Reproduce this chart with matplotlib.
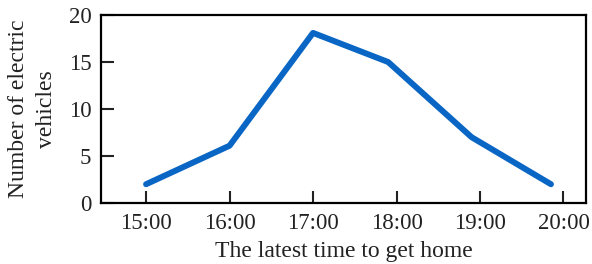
import matplotlib
matplotlib.use("Agg")
import matplotlib.pyplot as plt

hours = [15.0, 16.0, 17.0, 17.9, 18.9, 19.85]
vehicles = [2.0, 6.1, 18.1, 15.0, 7.0, 2.0]
tick_hours = [15, 16, 17, 18, 19, 20]
tick_labels = ["15:00", "16:00", "17:00", "18:00", "19:00", "20:00"]
y_ticks = [0, 5, 10, 15, 20]

plt.rcParams['font.family'] = ['Liberation Serif', 'DejaVu Serif']

fig = plt.figure(figsize=(5.92, 2.64), dpi=100)
ax = fig.add_axes([0.1706, 0.231, 0.8193, 0.712])
ax.plot(hours, vehicles, color='#0a66c4', linewidth=4.3, solid_capstyle='round', solid_joinstyle='round')
ax.set_xlim(14.46, 20.27)
ax.set_ylim(0, 20)
ax.set_xticks(tick_hours)
ax.set_xticklabels(tick_labels)
ax.set_yticks(y_ticks)
ax.tick_params(direction='in', length=9, width=1.5, labelsize=16.5, colors='#222222', pad=7)
ax.tick_params(axis='x', pad=7.5)
for s in ax.spines.values():
    s.set_linewidth(1.6)
ax.set_xlabel("The latest time to get home", fontsize=17, color='#222222', labelpad=5)
ax.set_ylabel("Number of electric\nvehicles", fontsize=17, color='#222222', linespacing=1.45, labelpad=8)
fig.savefig("out.png", dpi=100)
